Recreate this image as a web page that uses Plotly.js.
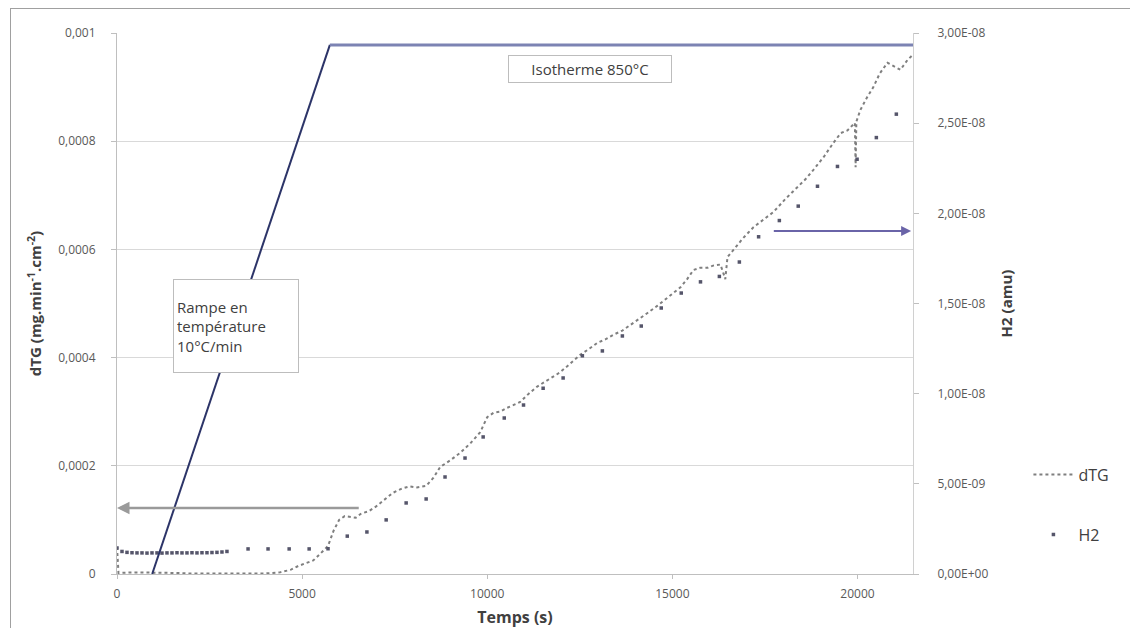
<!DOCTYPE html>
<html>
<head>
<meta charset="utf-8">
<script src="https://cdn.plot.ly/plotly-3.0.1.min.js"></script>
<style>
  html, body { margin: 0; padding: 0; background: #ffffff; }
  #chart { width: 1130px; height: 628px; }
  #frame { position: absolute; left: 10px; top: 8px; width: 1140px; height: 640px; border: 1px solid #a0a0a0; pointer-events: none; }
</style>
</head>
<body>
<div id="chart"></div>
<div id="frame"></div>
<script>
// ---- dTG series (left axis, mg.min-1.cm-2) ----
const dtgTime = [0, 40, 500, 1000, 1500, 2000, 2500, 3000, 3500, 4000, 4400, 4700, 4900, 5100, 5300, 5500, 5700, 5850, 6000, 6150, 6300, 6450, 6600, 6800, 7000, 7200, 7450, 7700, 7900, 8100, 8350, 8550, 8730, 9000, 9270, 9550, 9810, 10000, 10170, 10350, 10530, 10700, 10890, 11100, 11340, 11550, 11780, 11950, 12160, 12350, 12510, 12750, 12970, 13200, 13400, 13650, 13860, 14100, 14320, 14600, 14860, 15050, 15220, 15400, 15570, 15750, 15950, 16100, 16300, 16430, 16460, 16490, 16650, 16900, 17190, 17450, 17730, 18050, 18380, 18600, 18810, 19100, 19350, 19550, 19730, 19930, 19950, 19970, 20080, 20250, 20430, 20600, 20810, 21000, 21160, 21350, 21500];
const dtgValue = [0.00005, 0.000002, 0.000003, 0.000003, 0.000002, 0.000001, 0.000001, 0, 0, 0.000001, 0.000003, 0.000008, 0.000015, 0.00002, 0.000025, 0.000038, 0.000052, 0.00008, 0.0001, 0.000107, 0.000105, 0.000104, 0.000112, 0.000116, 0.000125, 0.000136, 0.00015, 0.000158, 0.000162, 0.00016, 0.000163, 0.000178, 0.000198, 0.00021, 0.000224, 0.000242, 0.000262, 0.00029, 0.000298, 0.0003, 0.000307, 0.000312, 0.000318, 0.000332, 0.000346, 0.000355, 0.000364, 0.000372, 0.000384, 0.000396, 0.000405, 0.000416, 0.000427, 0.000434, 0.000442, 0.00045, 0.00046, 0.00047, 0.000482, 0.000496, 0.00051, 0.00052, 0.00053, 0.000545, 0.000562, 0.000566, 0.000566, 0.00057, 0.000572, 0.000545, 0.000575, 0.000586, 0.000599, 0.00062, 0.000641, 0.000655, 0.000669, 0.000693, 0.000715, 0.00073, 0.000747, 0.000772, 0.000797, 0.000815, 0.00082, 0.000834, 0.000752, 0.000836, 0.000858, 0.00088, 0.0009, 0.000925, 0.000945, 0.000938, 0.000932, 0.00095, 0.00096];

// ---- H2 series (right axis, amu) ----
const h2Time = [0, 135, 270, 405, 540, 675, 810, 945, 1080, 1215, 1350, 1485, 1620, 1755, 1890, 2025, 2160, 2295, 2430, 2565, 2700, 2835, 2970, 3540, 4080, 4650, 5190, 5700, 6220, 6750, 7270, 7810, 8350, 8860, 9400, 9890, 10460, 10980, 11510, 12050, 12570, 13110, 13650, 14160, 14700, 15240, 15760, 16270, 16810, 17330, 17890, 18400, 18920, 19460, 19990, 20510, 21050];
const h2Value = [1.44e-9, 1.25e-9, 1.2e-9, 1.18e-9, 1.17e-9, 1.17e-9, 1.16e-9, 1.17e-9, 1.17e-9, 1.16e-9, 1.17e-9, 1.17e-9, 1.18e-9, 1.17e-9, 1.17e-9, 1.18e-9, 1.17e-9, 1.18e-9, 1.18e-9, 1.19e-9, 1.2e-9, 1.22e-9, 1.25e-9, 1.39e-9, 1.39e-9, 1.39e-9, 1.39e-9, 1.4e-9, 2.1e-9, 2.33e-9, 3.0e-9, 3.94e-9, 4.16e-9, 5.38e-9, 6.43e-9, 7.6e-9, 8.65e-9, 9.37e-9, 1.03e-8, 1.087e-8, 1.21e-8, 1.237e-8, 1.32e-8, 1.375e-8, 1.475e-8, 1.558e-8, 1.62e-8, 1.65e-8, 1.73e-8, 1.87e-8, 1.96e-8, 2.04e-8, 2.15e-8, 2.26e-8, 2.3e-8, 2.42e-8, 2.55e-8];

// ---- axes ticks ----
const xTickVals = [0, 5000, 10000, 15000, 20000];
const xTickText = ['0', '5000', '10000', '15000', '20000'];
const yTickVals = [0, 0.0002, 0.0004, 0.0006, 0.0008, 0.001];
const yTickText = ['0', '0,0002', '0,0004', '0,0006', '0,0008', '0,001'];
const y2TickVals = [0, 5e-9, 1e-8, 1.5e-8, 2e-8, 2.5e-8, 3e-8];
const y2TickText = ['0,00E+00', '5,00E-09', '1,00E-08', '1,50E-08', '2,00E-08', '2,50E-08', '3,00E-08'];

// ---- temperature programme drawing (ramp 10°C/min then isotherm 850°C) ----
const rampTime = [950, 5750, 21500];
const rampLevel = [0, 0.000978, 0.000978];
// arrows pointing to the axes: [start time, end time, level (left axis units)]
const arrowLeft = [6570, 0, 0.000122];
const arrowRight = [17700, 21450, 0.000634];

const FONT = 'Open Sans, Liberation Sans, sans-serif';

const traces = [
  {
    x: dtgTime, y: dtgValue, name: 'dTG', type: 'scatter', mode: 'lines',
    line: {color: '#7f7f7f', width: 2, dash: 'dot'},
    legendgroup: 'a'
  },
  {
    x: h2Time, y: h2Value, name: 'H2', type: 'scatter', mode: 'markers', yaxis: 'y2',
    marker: {color: '#55556a', size: 3.5, symbol: 'square'},
    legendgroup: 'b'
  }
];

const layout = {
  width: 1130, height: 628,
  margin: {l: 117, r: 217, t: 33, b: 54},
  paper_bgcolor: '#ffffff', plot_bgcolor: '#ffffff',
  font: {family: FONT, color: '#595959', size: 12},
  showlegend: true,
  legend: {x: 1.145, y: 0.215, xanchor: 'left', yanchor: 'top', font: {size: 16, color: '#404040'},
           tracegroupgap: 36, traceorder: 'grouped', itemwidth: 40, bgcolor: 'rgba(0,0,0,0)'},
  xaxis: {
    range: [0, 21500], tickvals: xTickVals, ticktext: xTickText,
    showgrid: false, zeroline: false, showline: true, linecolor: '#bfbfbf', linewidth: 1,
    ticks: 'outside', ticklen: 4, tickcolor: '#bfbfbf', ticklabelstandoff: 5,
    tickfont: {size: 12, color: '#595959'},
    title: {text: '<b>Temps (s)</b>', font: {size: 16, color: '#404040'}, standoff: 11}
  },
  yaxis: {
    range: [0, 0.001], tickvals: yTickVals, ticktext: yTickText,
    showgrid: true, gridcolor: '#d9d9d9', gridwidth: 1, zeroline: false,
    showline: true, linecolor: '#bfbfbf', linewidth: 1,
    ticks: 'outside', ticklen: 5, tickcolor: '#bfbfbf', ticklabelstandoff: 13,
    tickfont: {size: 12, color: '#595959'},
    title: {text: '<b>dTG (mg.min<sup>-1</sup>.cm<sup>-2</sup>)</b>', font: {size: 15, color: '#404040'}, standoff: 12}
  },
  yaxis2: {
    range: [0, 3e-8], tickvals: y2TickVals, ticktext: y2TickText, overlaying: 'y', side: 'right',
    showgrid: false, zeroline: false, showline: true, linecolor: '#d0d0d0', linewidth: 1,
    ticks: 'outside', ticklen: 5, tickcolor: '#bfbfbf', ticklabelstandoff: 16,
    tickfont: {size: 12, color: '#595959'},
    title: {text: '<b>H2 (amu)</b>', font: {size: 15, color: '#404040'}, standoff: 14}
  },
  shapes: [
    {type: 'line', xref: 'x', yref: 'y', x0: rampTime[0], y0: rampLevel[0], x1: rampTime[1], y1: rampLevel[1],
     line: {color: '#2c3468', width: 2}},
    {type: 'line', xref: 'x', yref: 'y', x0: rampTime[1], y0: rampLevel[1], x1: rampTime[2], y1: rampLevel[2],
     line: {color: '#7c83b3', width: 3}}
  ],
  annotations: [
    {x: arrowLeft[1], y: arrowLeft[2], ax: arrowLeft[0], ay: arrowLeft[2], xref: 'x', yref: 'y', axref: 'x', ayref: 'y',
     text: '', showarrow: true, arrowhead: 2, arrowsize: 1, arrowwidth: 2.5, arrowcolor: '#9a9a9a'},
    {x: arrowRight[1], y: arrowRight[2], ax: arrowRight[0], ay: arrowRight[2], xref: 'x', yref: 'y', axref: 'x', ayref: 'y',
     text: '', showarrow: true, arrowhead: 2, arrowsize: 1, arrowwidth: 2, arrowcolor: '#6a64a8'},
    {x: 3216, y: 0.000458, xref: 'x', yref: 'y', showarrow: false,
     text: 'Rampe en<br>température<br>10°C/min', align: 'left', valign: 'middle',
     width: 118, height: 86, bgcolor: '#ffffff', bordercolor: '#bdbdbd', borderwidth: 1, borderpad: 3,
     font: {size: 15, color: '#404040', family: FONT}},
    {x: 12780, y: 0.000933, xref: 'x', yref: 'y', showarrow: false,
     text: 'Isotherme 850°C', align: 'center',
     width: 158, height: 22, bgcolor: '#ffffff', bordercolor: '#bdbdbd', borderwidth: 1, borderpad: 2,
     font: {size: 15, color: '#404040', family: FONT}}
  ]
};

Plotly.newPlot('chart', traces, layout, {displayModeBar: false, responsive: false});
</script>
</body>
</html>
